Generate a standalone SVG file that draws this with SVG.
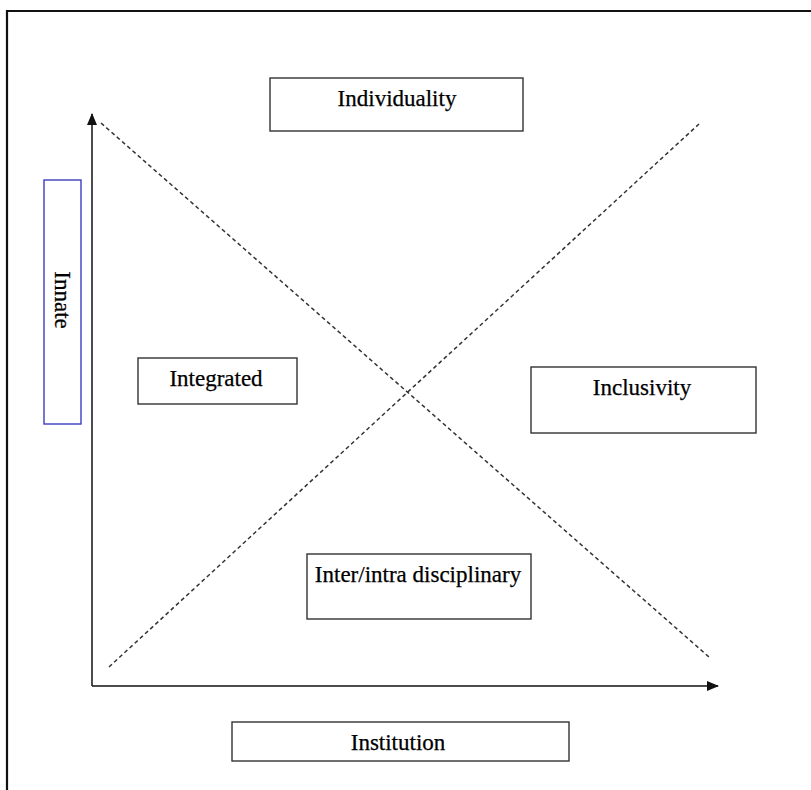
<svg xmlns="http://www.w3.org/2000/svg" width="811" height="790" viewBox="0 0 811 790">
<style>
.box{fill:#fff;stroke:#333;stroke-width:1.4}
.lbl{font-family:"Liberation Serif","Times New Roman",serif;font-size:23px;fill:#000;stroke:#000;stroke-width:0.25}
.axis{stroke:#111;stroke-width:1.5;fill:none}
.dash{stroke:#333;stroke-width:1.5;stroke-dasharray:4 3;fill:none}
</style>
<defs>
<marker id="ah" viewBox="0 0 12 10" refX="11" refY="5" markerWidth="12" markerHeight="10" markerUnits="userSpaceOnUse" orient="auto">
<path d="M0,0 L12,5 L0,10 z" fill="#111"/>
</marker>
</defs>
<rect width="811" height="790" fill="#fff"/>
<path d="M7,790 V11 H811" fill="none" stroke="#111" stroke-width="2.2"/>
<g id="connectors">
<line class="axis" x1="92" y1="686" x2="92" y2="114" marker-end="url(#ah)"/>
<line class="axis" x1="92" y1="686" x2="718" y2="686" marker-end="url(#ah)"/>
<line class="dash" x1="101" y1="123" x2="709" y2="657"/>
<line class="dash" x1="109" y1="667" x2="699" y2="124"/>
</g>
<g id="individuality">
<rect class="box" x="270" y="78" width="253" height="53"/>
<text class="lbl" x="397" y="106" text-anchor="middle">Individuality</text>
</g>
<g id="innate">
<rect x="44" y="180" width="37" height="244" fill="#fff" stroke="#3c3cc0" stroke-width="1.4"/>
<text class="lbl" transform="translate(55,300) rotate(90)" text-anchor="middle">Innate</text>
</g>
<g id="integrated">
<rect class="box" x="138" y="358" width="159" height="46"/>
<text class="lbl" x="216" y="386" text-anchor="middle">Integrated</text>
</g>
<g id="inclusivity">
<rect class="box" x="531" y="367" width="225" height="66"/>
<text class="lbl" x="642" y="395" text-anchor="middle">Inclusivity</text>
</g>
<g id="interdisciplinary">
<rect class="box" x="307" y="554" width="224" height="65"/>
<text class="lbl" x="418" y="582" text-anchor="middle">Inter/intra disciplinary</text>
</g>
<g id="institution">
<rect class="box" x="232" y="722" width="337" height="39"/>
<text class="lbl" x="398" y="750" text-anchor="middle">Institution</text>
</g>
</svg>
